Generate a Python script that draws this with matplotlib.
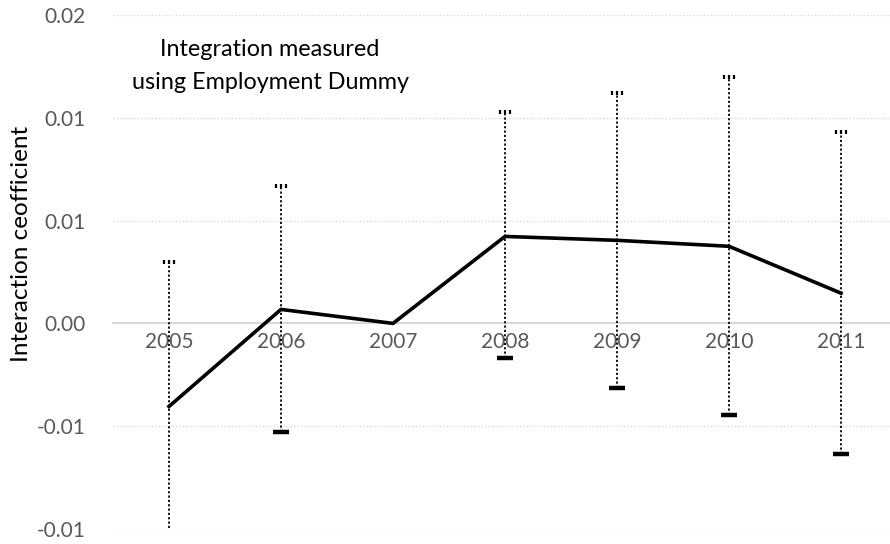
import numpy as np
import matplotlib
matplotlib.use("Agg")
import matplotlib.pyplot as plt
from matplotlib.path import Path

# data
years = ["2005", "2006", "2007", "2008", "2009", "2010", "2011"]
coef = [-0.00404, 0.00068, 0.0, 0.00423, 0.00404, 0.00375, 0.00147]
upper = [0.00297, 0.00666, None, 0.01026, 0.0112, 0.0120, 0.0093]
lower = [-0.0106, -0.0053, None, -0.0017, -0.00316, -0.00447, -0.00637]
ytick_vals = [-0.01, -0.005, 0.0, 0.005, 0.01, 0.015]
ytick_labels = ["-0.01", "-0.01", "0.00", "0.01", "0.01", "0.02"]

plt.rcParams['font.family'] = ['Lato', 'DejaVu Sans']

fig = plt.figure(figsize=(8.9, 5.44), dpi=100)
ax = fig.add_axes([113 / 890, 15 / 544, 784 / 890, 514 / 544])

x = np.arange(len(years))

# three small ticks used as the upper cap
tri = Path([(-1, -0.45), (-1, 0.45), (0, -0.45), (0, 0.45), (1, -0.45), (1, 0.45)],
           [Path.MOVETO, Path.LINETO, Path.MOVETO, Path.LINETO, Path.MOVETO, Path.LINETO])

for i in range(len(years)):
    if upper[i] is None:
        continue
    ax.plot([x[i], x[i]], [lower[i], upper[i]], color="black", lw=1.3,
            linestyle=(0, (1.2, 1.2)), zorder=3, clip_on=True)
    ax.plot(x[i], upper[i], marker=tri, color="black", markersize=7, mew=1.6,
            zorder=4)
    ax.plot(x[i], lower[i], marker="_", color="black", markersize=11, mew=3.2,
            zorder=4)

ax.plot(x, coef, color="black", lw=2.6, zorder=5, solid_joinstyle="miter")

ax.set_xlim(-0.5, len(years) - 0.5)
ax.set_ylim(-0.01, 0.015)
ax.set_yticks(ytick_vals)
ax.set_yticklabels(ytick_labels)
ax.yaxis.grid(True, color="#d9d9d9", linestyle=(0, (1, 1.5)), lw=1)
ax.set_axisbelow(True)

ax.set_xticks(x)
ax.set_xticklabels(years)
for s in ["top", "right", "left"]:
    ax.spines[s].set_visible(False)
ax.spines["bottom"].set_position(("data", 0))
ax.spines["bottom"].set_color("#d9d9d9")
ax.spines["bottom"].set_linewidth(1.5)
ax.tick_params(axis="x", length=0, pad=6, labelsize=15, labelcolor="#595959")
ax.tick_params(axis="y", length=0, pad=20, labelsize=15, labelcolor="#595959")

fig.text(22 / 890, 1 - 244 / 544, "Interaction ceofficient", rotation=90,
         ha="center", va="center", fontsize=17.5, color="black")

fig.text(270 / 890, 1 - 66 / 544, "Integration measured\nusing Employment Dummy",
         ha="center", va="center", fontsize=16.8, linespacing=1.75, color="black")

fig.savefig("out.png", dpi=100)
